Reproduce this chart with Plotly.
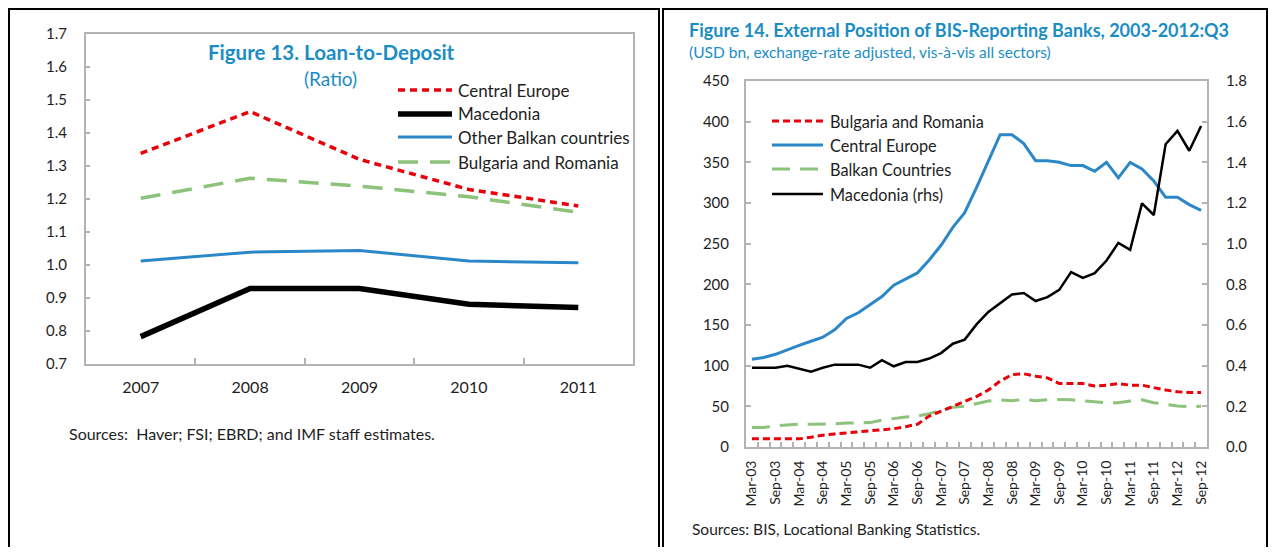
import plotly.graph_objects as go

# The page body has an 8px margin, so the figure is drawn 8px in from the top-left.
OFF = 8
W, H = 1276 - 2 * OFF, 555 - 2 * OFF


def px(x):
    return (x - OFF) / W


def py(y):
    return 1 - (y - OFF) / H


# ---------------- Figure 13 data ----------------
years = ["2007", "2008", "2009", "2010", "2011"]
ltd_central_europe = [1.338, 1.465, 1.320, 1.229, 1.179]
ltd_macedonia = [0.783, 0.929, 0.929, 0.881, 0.871]
ltd_other_balkan = [1.012, 1.039, 1.044, 1.012, 1.007]
ltd_bulg_rom = [1.202, 1.263, 1.239, 1.207, 1.160]

# ---------------- Figure 14 data ----------------
quarters = ["Mar-03", "Jun-03", "Sep-03", "Dec-03", "Mar-04", "Jun-04", "Sep-04", "Dec-04",
            "Mar-05", "Jun-05", "Sep-05", "Dec-05", "Mar-06", "Jun-06", "Sep-06", "Dec-06",
            "Mar-07", "Jun-07", "Sep-07", "Dec-07", "Mar-08", "Jun-08", "Sep-08", "Dec-08",
            "Mar-09", "Jun-09", "Sep-09", "Dec-09", "Mar-10", "Jun-10", "Sep-10", "Dec-10",
            "Mar-11", "Jun-11", "Sep-11", "Dec-11", "Mar-12", "Jun-12", "Sep-12"]
bis_bulg_rom = [10, 10, 10, 10, 10, 12, 14.5, 16, 17.5, 18.5, 20, 21, 22.5, 25, 28, 38, 44, 49.5, 55.5, 62,
                70, 81, 89, 90, 87, 85, 78, 78, 78, 75, 76, 78, 76, 76, 73, 70, 68, 67, 67]
bis_central_europe = [108, 110, 114, 120, 125, 130, 135, 144, 158, 165, 175, 185, 199, 207, 214, 230, 248, 270,
                      288, 319, 352, 384, 384, 373, 352, 352, 350, 346, 346, 339, 350, 331, 350, 342, 327, 307,
                      307, 298, 291]
bis_balkan = [24, 24, 26, 27, 28, 28, 28, 28.5, 29.5, 30, 30, 33, 35, 37, 38, 41, 45, 49, 50, 53.5,
              56.5, 58, 57, 58.5, 57, 58, 58.5, 58, 56.5, 55.5, 54.5, 54.5, 56.5, 58, 54.5, 52.5, 50.5, 49.5, 50]
bis_macedonia = [0.39, 0.39, 0.39, 0.40, 0.385, 0.37, 0.39, 0.405, 0.405, 0.405, 0.39, 0.427, 0.397, 0.418,
                 0.418, 0.435, 0.462, 0.508, 0.528, 0.603, 0.664, 0.705, 0.750, 0.757, 0.718, 0.737, 0.773,
                 0.86, 0.832, 0.855, 0.917, 1.004, 0.970, 1.198, 1.141, 1.489, 1.555, 1.457, 1.579]
quarter_ticktext = [q if q.startswith(("Mar", "Sep")) else "" for q in quarters]

RED = "#e8000b"
BLUE = "#2b87c8"
GREEN = "#8dc27b"
BLACK = "#000000"
TITLE = "#1b8dc4"
AXIS = "#b3b3b3"
TXT = "#1e1e1e"
FONT = "Lato"

fig = go.Figure()

# Figure 13 traces
fig.add_trace(go.Scatter(x=years, y=ltd_bulg_rom, mode="lines", xaxis="x", yaxis="y",
                         line=dict(color=GREEN, width=3.5, dash="20px,12px"), name="Bulgaria and Romania"))
fig.add_trace(go.Scatter(x=years, y=ltd_other_balkan, mode="lines", xaxis="x", yaxis="y",
                         line=dict(color=BLUE, width=3), name="Other Balkan countries"))
fig.add_trace(go.Scatter(x=years, y=ltd_macedonia, mode="lines", xaxis="x", yaxis="y",
                         line=dict(color=BLACK, width=5.5), name="Macedonia"))
fig.add_trace(go.Scatter(x=years, y=ltd_central_europe, mode="lines", xaxis="x", yaxis="y",
                         line=dict(color=RED, width=3.5, dash="7px,5px"), name="Central Europe"))

# Figure 14 traces
fig.add_trace(go.Scatter(x=quarters, y=bis_balkan, mode="lines", xaxis="x2", yaxis="y2",
                         line=dict(color=GREEN, width=3, dash="18px,10px"), name="Balkan Countries"))
fig.add_trace(go.Scatter(x=quarters, y=bis_bulg_rom, mode="lines", xaxis="x2", yaxis="y2",
                         line=dict(color=RED, width=3, dash="7px,4px"), name="Bulgaria and Romania"))
fig.add_trace(go.Scatter(x=quarters, y=bis_central_europe, mode="lines", xaxis="x2", yaxis="y2",
                         line=dict(color=BLUE, width=3), name="Central Europe"))
fig.add_trace(go.Scatter(x=quarters, y=bis_macedonia, mode="lines", xaxis="x2", yaxis="y3",
                         line=dict(color=BLACK, width=2.5), name="Macedonia (rhs)"))

tickfont = dict(family=FONT, size=15, color=TXT)

fig.update_layout(
    width=W, height=H, margin=dict(l=0, r=0, t=0, b=0),
    paper_bgcolor="white", plot_bgcolor="white", showlegend=False,
    font=dict(family=FONT, color=TXT),
    xaxis=dict(domain=[px(86), px(633)], anchor="y", type="category",
               range=[-0.5, len(years) - 0.5],
               tickson="boundaries", ticks="inside", ticklen=6, tickcolor=AXIS, tickwidth=1.5,
               showline=True, linecolor=AXIS, linewidth=2, mirror=True, showgrid=False,
               tickfont=dict(family=FONT, size=16, color=TXT), automargin=False,
               ticklabelstandoff=8),
    yaxis=dict(domain=[py(364), py(34)], anchor="x", range=[0.7, 1.7], dtick=0.1, tickformat=".1f",
               showline=True, linecolor=AXIS, linewidth=2, mirror=True, showgrid=False,
               ticks="inside", ticklen=4, tickcolor=AXIS, tickwidth=1.5, zeroline=False,
               tickfont=tickfont, automargin=False, ticklabelstandoff=14),
    xaxis2=dict(domain=[px(746), px(1207)], anchor="y2", type="category",
                range=[-0.5, len(quarters) - 0.5],
                tickmode="array", tickvals=quarters, ticktext=quarter_ticktext,
                tickson="boundaries", ticks="inside", ticklen=5, tickcolor=AXIS, tickwidth=1.5,
                tickangle=-90, showline=True, linecolor=AXIS, linewidth=2, mirror=True,
                showgrid=False, tickfont=dict(family=FONT, size=14, color=TXT), automargin=False,
                ticklabelstandoff=6),
    yaxis2=dict(domain=[py(447), py(81)], anchor="x2", range=[0, 450], dtick=50,
                showline=True, linecolor=AXIS, linewidth=2, showgrid=False, zeroline=False,
                ticks="inside", ticklen=5, tickcolor=AXIS, tickwidth=1.5,
                tickfont=tickfont, automargin=False, ticklabelstandoff=12),
    yaxis3=dict(domain=[py(447), py(81)], anchor="x2", overlaying="y2", side="right",
                range=[0, 1.8], dtick=0.2, tickformat=".1f",
                showline=True, linecolor=AXIS, linewidth=2, showgrid=False, zeroline=False,
                ticks="inside", ticklen=5, tickcolor=AXIS, tickwidth=1.5,
                tickfont=tickfont, automargin=False, ticklabelstandoff=14),
)

shapes = []
annotations = []

# Outer frames (the page margin keeps them from reaching the very edge)
shapes.append(dict(type="rect", xref="paper", yref="paper", x0=px(9), x1=px(659), y0=py(580), y1=py(9),
                   line=dict(color="black", width=2), fillcolor="rgba(0,0,0,0)"))
shapes.append(dict(type="rect", xref="paper", yref="paper", x0=px(663), x1=px(1267), y0=py(580), y1=py(9),
                   line=dict(color="black", width=2), fillcolor="rgba(0,0,0,0)"))

# Figure 13 titles
annotations.append(dict(text="<b>Figure 13. Loan-to-Deposit</b>", xref="paper", yref="paper",
                        x=px(331), y=py(52), xanchor="center", yanchor="middle", showarrow=False,
                        font=dict(family=FONT, size=20.5, color=TITLE)))
annotations.append(dict(text="(Ratio)", xref="paper", yref="paper",
                        x=px(330), y=py(79), xanchor="center", yanchor="middle", showarrow=False,
                        font=dict(family=FONT, size=19, color=TITLE)))

# Figure 13 legend
leg13 = [("Central Europe", RED, 3.5, "7px,5px", 90),
         ("Macedonia", BLACK, 5.5, "solid", 114),
         ("Other Balkan countries", BLUE, 3, "solid", 137),
         ("Bulgaria and Romania", GREEN, 3.5, "20px,12px", 162)]
for name, col, w, dash, yy in leg13:
    shapes.append(dict(type="line", xref="paper", yref="paper", x0=px(398), x1=px(452), y0=py(yy), y1=py(yy),
                       line=dict(color=col, width=w, dash=dash)))
    annotations.append(dict(text=name, xref="paper", yref="paper", x=px(456), y=py(yy), xanchor="left",
                            yanchor="middle", showarrow=False, font=dict(family=FONT, size=17, color=TXT)))

annotations.append(dict(text="Sources:  Haver; FSI; EBRD; and IMF staff estimates.", xref="paper", yref="paper",
                        x=px(67), y=py(433), xanchor="left", yanchor="middle", showarrow=False,
                        font=dict(family=FONT, size=16, color=TXT)))

# Figure 14 titles
annotations.append(dict(text="<b>Figure 14. External Position of BIS-Reporting Banks, 2003-2012:Q3</b>",
                        xref="paper", yref="paper", x=px(687), y=py(30), xanchor="left", yanchor="middle",
                        showarrow=False, font=dict(family=FONT, size=18, color=TITLE)))
annotations.append(dict(text="(USD bn, exchange-rate adjusted, vis-à-vis all sectors)",
                        xref="paper", yref="paper", x=px(687), y=py(52), xanchor="left", yanchor="middle",
                        showarrow=False, font=dict(family=FONT, size=15.5, color=TITLE)))

# Figure 14 legend
leg14 = [("Bulgaria and Romania", RED, 3, "7px,4px", 121),
         ("Central Europe", BLUE, 3, "solid", 145),
         ("Balkan Countries", GREEN, 3, "18px,10px", 169),
         ("Macedonia (rhs)", BLACK, 2.5, "solid", 194)]
for name, col, w, dash, yy in leg14:
    shapes.append(dict(type="line", xref="paper", yref="paper", x0=px(772), x1=px(823), y0=py(yy), y1=py(yy),
                       line=dict(color=col, width=w, dash=dash)))
    annotations.append(dict(text=name, xref="paper", yref="paper", x=px(828), y=py(yy), xanchor="left",
                            yanchor="middle", showarrow=False, font=dict(family=FONT, size=16.3, color=TXT)))

annotations.append(dict(text="Sources: BIS, Locational Banking Statistics.", xref="paper", yref="paper",
                        x=px(690), y=py(529), xanchor="left", yanchor="middle", showarrow=False,
                        font=dict(family=FONT, size=15.5, color=TXT)))

fig.update_layout(shapes=shapes, annotations=annotations)

fig.write_html("out.html")
